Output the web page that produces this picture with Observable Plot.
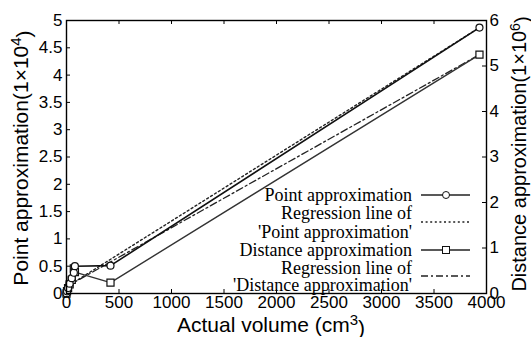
<!DOCTYPE html>
<html><head><meta charset="utf-8">
<script src="https://cdn.jsdelivr.net/npm/d3@7"></script>
<script src="https://cdn.jsdelivr.net/npm/@observablehq/plot@0.6"></script>
<style>body{margin:0;background:#fff}#chart{width:531px;height:337px}</style>
</head><body><div id="chart"></div>
<script>
// Actual volume (cm^3)
const volume = [0, 5, 15, 30, 50, 70, 80, 419, 3933];
// Point approximation (x 10^4), left axis
const pointApprox = [0, 0.04, 0.1, 0.18, 0.28, 0.38, 0.5, 0.51, 4.87];
// Distance approximation (x 10^6), right axis
const distanceApprox = [0, 0.05, 0.12, 0.2, 0.3, 0.55, 0.47, 0.24, 5.25];
// Regression line endpoints
const regX = [0, 3933];
const regPoint = [0.12, 4.87];
const regDistance = [0.15, 5.25];
// Ticks
const xTicks = [0, 500, 1000, 1500, 2000, 2500, 3000, 3500, 4000];
const yLeftTicks = [0, 0.5, 1, 1.5, 2, 2.5, 3, 3.5, 4, 4.5, 5];
const yRightTicks = [0, 1, 2, 3, 4, 5, 6];
const legendLabels = [["Point approximation"], ["Regression line of", "'Point approximation'"], ["Distance approximation"], ["Regression line of", "'Distance approximation'"]];

const W = 531, H = 337, mL = 66, mR = 45, mT = 20, mB = 44;
const k = 5 / 6; // right-axis units -> left-axis units
const xPx = 4000 / (W - mL - mR), yPx = 5 / (H - mT - mB);
const ptRows = volume.map((x, i) => ({x, y: pointApprox[i]}));
const dsRows = volume.map((x, i) => ({x, y: distanceApprox[i] * k}));
const rpRows = regX.map((x, i) => ({x, y: regPoint[i]}));
const rdRows = regX.map((x, i) => ({x, y: regDistance[i] * k}));
const tl = 4;

const plot = Plot.plot({
  width: W, height: H,
  marginLeft: mL, marginRight: mR, marginTop: mT, marginBottom: mB,
  style: {fontFamily: "'Liberation Sans', Arial, sans-serif", fontSize: "17px", color: "#000", background: "#fff"},
  x: {domain: [0, 4000]},
  y: {domain: [0, 5]},
  marks: [
    Plot.line(rpRows, {x: "x", y: "y", stroke: "#222", strokeWidth: 1.4, strokeDasharray: "2,2.6"}),
    Plot.line(rdRows, {x: "x", y: "y", stroke: "#222", strokeWidth: 1.3, strokeDasharray: "7,3,2,3"}),
    Plot.line(dsRows, {x: "x", y: "y", stroke: "#333", strokeWidth: 1.4}),
    Plot.line(ptRows, {x: "x", y: "y", stroke: "#111", strokeWidth: 1.6}),
    Plot.dot(dsRows, {x: "x", y: "y", symbol: "square", r: 4, stroke: "#111", fill: "white", strokeWidth: 1.2}),
    Plot.dot(ptRows, {x: "x", y: "y", r: 3.5, stroke: "#111", fill: "white", strokeWidth: 1.2}),
    Plot.ruleX(xTicks, {x: d => d, y1: 0, y2: tl * yPx, stroke: "#000"}),
    Plot.ruleX(xTicks, {x: d => d, y1: 5 - tl * yPx, y2: 5, stroke: "#000"}),
    Plot.ruleY(yLeftTicks, {y: d => d, x1: 0, x2: tl * xPx, stroke: "#000"}),
    Plot.ruleY(yRightTicks.map(d => d * k), {y: d => d, x1: 4000 - tl * xPx, x2: 4000, stroke: "#000"}),
    Plot.axisX(xTicks, {tickSize: 0, tickPadding: 2, tickFormat: d => String(d), label: null, fontSize: 17}),
    Plot.axisY(yLeftTicks, {anchor: "left", tickSize: 0, tickPadding: 4, tickFormat: d => String(d), label: null, fontSize: 17}),
    Plot.axisY(yRightTicks.map(d => d * k), {anchor: "right", tickSize: 0, tickPadding: 3, tickFormat: d => String(Math.round(d / k)), label: null, fontSize: 17}),
    Plot.frame({stroke: "#000", strokeWidth: 1.4})
  ]
});
document.getElementById("chart").appendChild(plot);

const svg = d3.select(plot);
function title(tx, ty, rot, size, main, sup, end) {
  const t = svg.append("text")
    .attr("transform", `translate(${tx},${ty})` + (rot ? ` rotate(${rot})` : ""))
    .attr("text-anchor", "middle").attr("fill", "#000")
    .style("font-family", "'Liberation Sans', Arial, sans-serif").style("font-size", size + "px");
  t.append("tspan").text(main);
  t.append("tspan").attr("dy", "-0.45em").style("font-size", Math.round(size * 0.72) + "px").text(sup);
  t.append("tspan").attr("dy", "0.45em").text(end);
}
title(28, 158, -90, 21, "Point approximation(1×10", "4", ")");
title(526, 154, -90, 20, "Distance approximation(1×10", "6", ")");
title(271, 332, 0, 21, "Actual volume (cm", "3", ")");

// Legend
const lg = svg.append("g").style("font-family", "'Liberation Serif', 'Times New Roman', serif").style("font-size", "18px");
const rows = [195, 213, 232, 250, 268, 285];
const textRows = [[0], [1, 2], [3], [4, 5]];
const sampleY = [195, 222, 250, 276];
const dashes = [null, "2,2.6", null, "7,3,2,3"];
legendLabels.forEach((lines, i) => {
  lines.forEach((s, j) => {
    lg.append("text").attr("x", 412).attr("y", rows[textRows[i][j]]).attr("dy", "0.35em")
      .attr("text-anchor", "end").attr("fill", "#000").text(s);
  });
  const ln = lg.append("line").attr("x1", 421).attr("x2", 470).attr("y1", sampleY[i]).attr("y2", sampleY[i])
    .attr("stroke", "#222").attr("stroke-width", 1.4);
  if (dashes[i]) ln.attr("stroke-dasharray", dashes[i]);
  if (i === 0) lg.append("circle").attr("cx", 446).attr("cy", sampleY[i]).attr("r", 3.5).attr("fill", "white").attr("stroke", "#111");
  if (i === 2) lg.append("rect").attr("x", 442.5).attr("y", sampleY[i] - 3.5).attr("width", 7).attr("height", 7).attr("fill", "white").attr("stroke", "#111");
});
</script>
</body></html>
